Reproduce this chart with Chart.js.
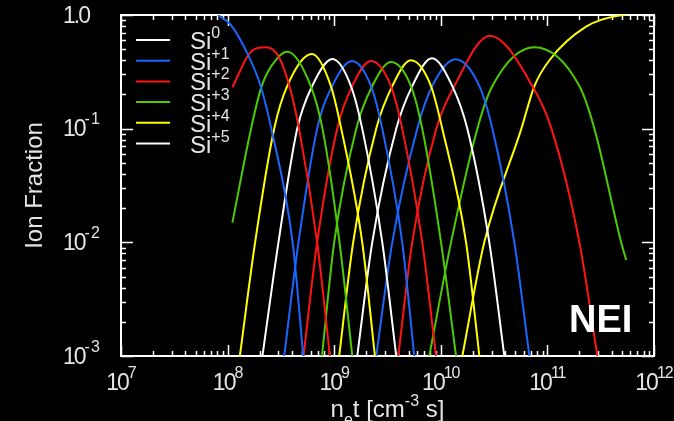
<!DOCTYPE html>
<html>
<head>
<meta charset="utf-8">
<script src="https://cdn.jsdelivr.net/npm/chart.js@4"></script>
<style>
  html, body { margin: 0; padding: 0; background: #000; }
</style>
</head>
<body>
<canvas id="chart" width="674" height="421"></canvas>
<script>
const FONT = '"Liberation Sans", Arial, Helvetica, sans-serif';
const TEXT = '#e4e4e4';

// ion stages and their line colours (IDL colour cycle)
const ionCharges = ['0', '+1', '+2', '+3', '+4', '+5', '+6', '+7', '+8', '+9', '+10', '+11', '+12', '+13', '+14'];
const ionColors = ['#ffffff', '#1a66ff', '#ff1414', '#4ccc00', '#ffff00'];

// log10(n_e t) and ion fraction
const si0_lognt = [];
const si0_frac = [];
const si1_lognt = [7.91, 8.03, 8.20, 8.31, 8.41, 8.61, 8.71];
const si1_frac = [1.0, 0.82, 0.43, 0.237, 0.10, 0.010, 0.001];
const si2_lognt = [8.045, 8.22, 8.36, 8.48, 8.58, 8.67, 8.84, 8.96];
const si2_frac = [0.231, 0.476, 0.52, 0.43, 0.237, 0.10, 0.010, 0.001];
const si3_lognt = [8.045, 8.22, 8.32, 8.48, 8.56, 8.78, 8.89, 9.05, 9.17];
const si3_frac = [0.0149, 0.10, 0.237, 0.43, 0.476, 0.237, 0.10, 0.010, 0.001];
const si4_lognt = [8.115, 8.258, 8.437, 8.559, 8.791, 8.969, 9.066, 9.263, 9.382];
const si4_frac = [0.001, 0.010, 0.10, 0.237, 0.454, 0.237, 0.10, 0.010, 0.001];
const si5_lognt = [8.327, 8.477, 8.653, 8.793, 8.984, 9.157, 9.263, 9.451, 9.582];
const si5_frac = [0.001, 0.010, 0.10, 0.237, 0.410, 0.237, 0.10, 0.010, 0.001];
const si6_lognt = [8.531, 8.665, 8.840, 8.981, 9.166, 9.345, 9.451, 9.638, 9.751];
const si6_frac = [0.001, 0.010, 0.10, 0.237, 0.394, 0.237, 0.10, 0.010, 0.001];
const si7_lognt = [8.712, 8.840, 9.028, 9.169, 9.345, 9.532, 9.638, 9.826, 9.955];
const si7_frac = [0.001, 0.010, 0.10, 0.237, 0.394, 0.237, 0.10, 0.010, 0.001];
const si8_lognt = [8.885, 9.000, 9.207, 9.357, 9.532, 9.720, 9.826, 10.002, 10.143];
const si8_frac = [0.001, 0.010, 0.10, 0.237, 0.386, 0.237, 0.10, 0.010, 0.001];
const si9_lognt = [9.047, 9.178, 9.394, 9.545, 9.720, 9.908, 10.014, 10.237, 10.362];
const si9_frac = [0.001, 0.010, 0.10, 0.237, 0.400, 0.237, 0.10, 0.010, 0.001];
const si10_lognt = [9.216, 9.357, 9.582, 9.732, 9.917, 10.108, 10.249, 10.455, 10.596];
const si10_frac = [0.001, 0.010, 0.10, 0.237, 0.416, 0.237, 0.10, 0.010, 0.001];
const si11_lognt = [9.394, 9.545, 9.779, 9.920, 10.136, 10.362, 10.484, 10.690, 10.831];
const si11_frac = [0.001, 0.010, 0.10, 0.237, 0.408, 0.237, 0.10, 0.010, 0.001];
const si12_lognt = [9.601, 9.732, 9.958, 10.127, 10.462, 10.859, 11.038, 11.300, 11.469];
const si12_frac = [0.001, 0.010, 0.10, 0.237, 0.658, 0.237, 0.10, 0.010, 0.001];
const si13_lognt = [9.892, 10.096, 10.343, 10.484, 10.878, 11.300, 11.441, 11.692, 11.739];
const si13_frac = [0.001, 0.010, 0.10, 0.237, 0.520, 0.237, 0.10, 0.010, 0.0070];
const si14_lognt = [10.202, 10.408, 10.756, 10.878, 11.019, 11.363, 11.676, 11.739];
const si14_frac = [0.001, 0.010, 0.10, 0.237, 0.40, 0.789, 0.99, 1.0];

const seriesLogNt = [si0_lognt, si1_lognt, si2_lognt, si3_lognt, si4_lognt, si5_lognt, si6_lognt, si7_lognt,
  si8_lognt, si9_lognt, si10_lognt, si11_lognt, si12_lognt, si13_lognt, si14_lognt];
const seriesFrac = [si0_frac, si1_frac, si2_frac, si3_frac, si4_frac, si5_frac, si6_frac, si7_frac,
  si8_frac, si9_frac, si10_frac, si11_frac, si12_frac, si13_frac, si14_frac];

// axis ticks
const xTickExps = [7, 8, 9, 10, 11, 12];
const yTickValues = [1, 0.1, 0.01, 0.001];
const yTickBase = ['1.0', '10', '10', '10'];
const yTickExp = ['', '-1', '-2', '-3'];
const legendCount = 6;

const datasets = seriesFrac.map((frac, i) => ({
  label: 'Si' + ionCharges[i],
  data: frac.map((f, j) => ({ x: Math.pow(10, seriesLogNt[i][j]), y: f })),
  borderColor: ionColors[i % ionColors.length],
  borderWidth: 2,
  pointRadius: 0,
  fill: false,
  cubicInterpolationMode: 'monotone'
}));

// parts: [text, font size, baseline shift, letter spacing]
function drawRich(ctx, parts, x, y, align) {
  let w = 0;
  const setFont = p => { ctx.font = p[1] + 'px ' + FONT; ctx.letterSpacing = (p[3] || 0) + 'px'; };
  parts.forEach(p => { setFont(p); w += ctx.measureText(p[0]).width; });
  let cx = align === 'center' ? x - w / 2 : (align === 'right' ? x - w : x);
  parts.forEach(p => {
    setFont(p);
    ctx.fillText(p[0], cx, y + p[2]);
    cx += ctx.measureText(p[0]).width;
  });
  ctx.letterSpacing = '0px';
}

const idlAxes = {
  id: 'idlAxes',
  beforeDraw(chart) {
    const ctx = chart.ctx;
    ctx.save();
    ctx.fillStyle = '#000';
    ctx.fillRect(0, 0, chart.width, chart.height);
    ctx.restore();
  },
  beforeDatasetsDraw(chart) {
    const { ctx, chartArea: a, scales: { x, y } } = chart;
    ctx.save();
    ctx.strokeStyle = '#ffffff';
    ctx.lineWidth = 2;
    ctx.strokeRect(a.left, a.top, a.right - a.left, a.bottom - a.top);
    ctx.lineWidth = 1.5;
    ctx.beginPath();
    for (let n = 7; n <= 12; n++) {
      for (let m = 1; m <= 9; m++) {
        const v = m * Math.pow(10, n);
        if (v > 1e12) break;
        const px = Math.round(x.getPixelForValue(v)) + 0.5;
        const len = m === 1 ? 11 : 5;
        ctx.moveTo(px, a.bottom); ctx.lineTo(px, a.bottom - len);
        ctx.moveTo(px, a.top); ctx.lineTo(px, a.top + len);
      }
    }
    for (let n = -3; n <= 0; n++) {
      for (let m = 1; m <= 9; m++) {
        const v = m * Math.pow(10, n);
        if (v > 1) break;
        const py = Math.round(y.getPixelForValue(v)) + 0.5;
        const len = m === 1 ? 12 : 5;
        ctx.moveTo(a.left, py); ctx.lineTo(a.left + len, py);
        ctx.moveTo(a.right, py); ctx.lineTo(a.right - len, py);
      }
    }
    ctx.stroke();
    ctx.restore();
  },
  afterDraw(chart) {
    const { ctx, chartArea: a, scales: { x, y } } = chart;
    ctx.save();
    ctx.fillStyle = TEXT;
    ctx.textBaseline = 'alphabetic';

    // x tick labels
    xTickExps.forEach(e => {
      const px = x.getPixelForValue(Math.pow(10, e));
      drawRich(ctx, [['10', 23, 0, -2], [String(e), 16, -12, -1]], px, a.bottom + 34, 'center');
    });
    // y tick labels
    yTickValues.forEach((v, i) => {
      const py = y.getPixelForValue(v);
      const parts = [[yTickBase[i], 23, 0, -2]];
      if (yTickExp[i]) parts.push([yTickExp[i], 16, -12, 1]);
      drawRich(ctx, parts, 63, py + 7.5, 'left');
    });

    // axis titles
    const cx = (a.left + a.right) / 2;
    drawRich(ctx, [['n', 24, 0], ['e', 16, 8], ['t [cm', 24, 0], ['-3', 16, -11], [' s]', 24, 0]], cx, 417, 'center');
    ctx.save();
    ctx.translate(42, (a.top + a.bottom) / 2);
    ctx.rotate(-Math.PI / 2);
    ctx.textAlign = 'center';
    ctx.font = '24px ' + FONT;
    ctx.fillText('Ion Fraction', 0, 0);
    ctx.restore();

    // legend
    for (let i = 0; i < legendCount; i++) {
      const ly = 40 + i * 20.7;
      ctx.strokeStyle = ionColors[i % ionColors.length];
      ctx.lineWidth = 2;
      ctx.beginPath();
      ctx.moveTo(136, ly); ctx.lineTo(170, ly);
      ctx.stroke();
      drawRich(ctx, [['Si', 24, 0], [ionCharges[i], 16, -11]], 190, ly + 9, 'left');
    }

    // NEI tag
    ctx.fillStyle = '#ffffff';
    ctx.font = 'bold 38px ' + FONT;
    ctx.textAlign = 'left';
    ctx.fillText('NEI', 569, 332);
    ctx.restore();
  }
};

new Chart(document.getElementById('chart'), {
  type: 'line',
  data: { datasets },
  options: {
    responsive: false,
    animation: false,
    layout: { padding: { left: 121, right: 20, top: 15, bottom: 65 } },
    plugins: { legend: { display: false }, tooltip: { enabled: false } },
    scales: {
      x: { type: 'logarithmic', min: 1e7, max: 1e12, display: false },
      y: { type: 'logarithmic', min: 1e-3, max: 1, display: false }
    }
  },
  plugins: [idlAxes]
});
</script>
</body>
</html>
